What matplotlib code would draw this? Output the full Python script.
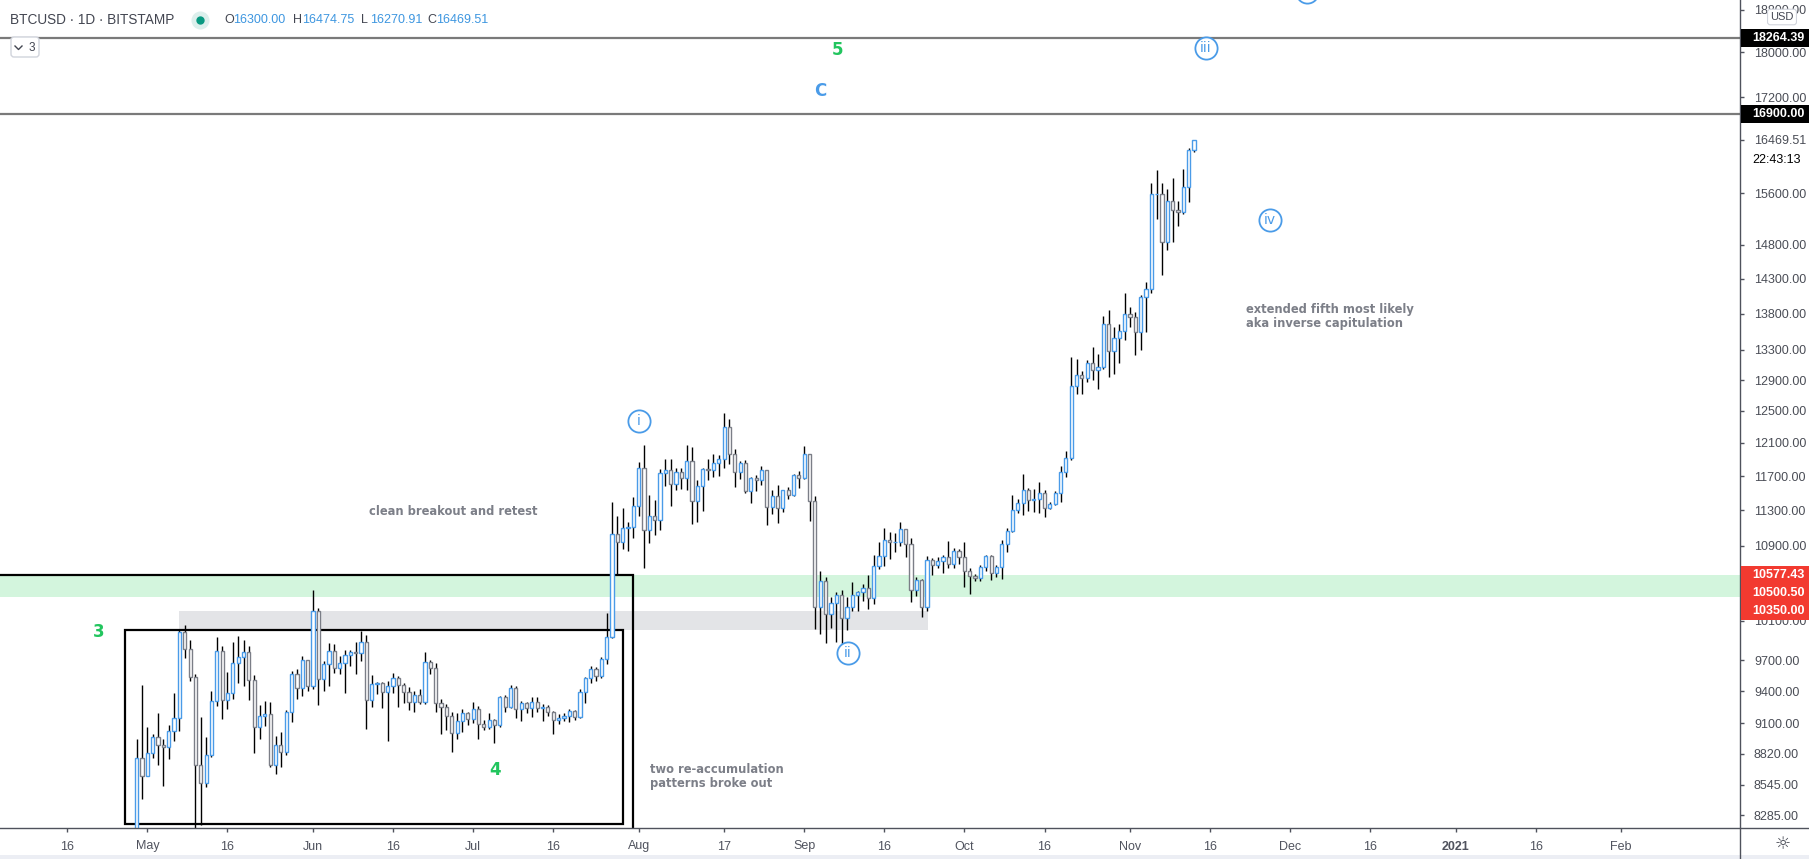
import datetime as dt
import numpy as np
import matplotlib
matplotlib.use("Agg")
import matplotlib.pyplot as plt
import matplotlib.dates as mdates
import matplotlib.ticker as mticker
from matplotlib.patches import Rectangle, FancyBboxPatch
from matplotlib.lines import Line2D
from matplotlib.transforms import IdentityTransform

# BTCUSD daily candles (Bitstamp), 29 Apr 2020 -> 13 Nov 2020
first_day = dt.date(2020, 4, 29)
first_open = 7760.0

closes = [
    8780, 8620,
    8825, 8970, 8900, 8880, 9030, 9150, 9980, 9810, 9540, 8720,
    8560, 8810, 9310, 9790, 9320, 9380, 9670, 9730, 9780, 9510,
    9060, 9170, 9180, 8720, 8900, 8840, 9200, 9570, 9430, 9700, 9450,
    10200, 9520, 9660, 9790, 9620, 9670, 9750, 9780, 9770, 9880,
    9320, 9470, 9480, 9390, 9450, 9530, 9460, 9390, 9300, 9360,
    9300, 9680, 9620, 9290, 9250, 9170, 9010, 9120, 9190, 9140,
    9230, 9090, 9060, 9130, 9080, 9340, 9250, 9430, 9230, 9290,
    9240, 9300, 9240, 9250, 9200, 9130, 9150, 9170, 9210, 9160,
    9390, 9530, 9610, 9550, 9710, 9930, 11030, 10940, 11100, 11110, 11350,
    11800, 11070, 11230, 11190, 11740, 11770, 11600, 11750, 11680, 11880,
    11410, 11580, 11780, 11770, 11860, 11910, 12300, 11960, 11750, 11860,
    11520, 11680, 11650, 11770, 11340, 11470, 11320, 11540, 11480, 11710, 11680,
    11970, 11410, 10240, 10520, 10170, 10280, 10370, 10130, 10240, 10370,
    10400, 10440, 10330, 10680, 10790, 10960, 10940, 10940, 11090, 10920,
    10420, 10530, 10240, 10740, 10690, 10730, 10780, 10700, 10840, 10780,
    10620, 10570, 10550, 10670, 10790, 10600, 10670, 10920, 11060, 11300,
    11380, 11540, 11420, 11430, 11500, 11330, 11370, 11500, 11750, 11920,
    12820, 12970, 12930, 13120, 13030, 13070, 13650, 13280, 13460, 13560, 13800,
    13760, 13550, 14030, 14150, 15590, 15590, 14840, 15480, 15330, 15300,
    15700, 16300, 16469.51,
]
highs = [
    8950, 9460,
    9060, 9000, 9190, 8950, 9080, 9380, 10000, 10050, 9900, 9570,
    9160, 8970, 9400, 9930, 9840, 9590, 9880, 9940, 9900, 9840,
    9560, 9270, 9310, 9300, 8980, 9020, 9220, 9600, 9610, 9740, 9700,
    10420, 10230, 9690, 9870, 9860, 9740, 9800, 9800, 9880, 9990,
    9950, 9560, 9490, 9490, 9500, 9580, 9550, 9480, 9440, 9400,
    9420, 9780, 9700, 9670, 9330, 9280, 9200, 9190, 9230, 9200,
    9300, 9260, 9130, 9190, 9140, 9350, 9360, 9460, 9450, 9310,
    9300, 9340, 9340, 9280, 9270, 9210, 9180, 9190, 9230, 9220,
    9420, 9540, 9640, 9630, 9730, 10180, 11400, 11230, 11330, 11170, 11450,
    11870, 12070, 11480, 11420, 11780, 11900, 11900, 11800, 11800, 12070,
    12050, 11650, 11800, 11900, 11970, 11950, 12480, 12400, 12020, 11880,
    11890, 11690, 11710, 11820, 11770, 11530, 11590, 11540, 11570, 11720, 11760,
    12060, 11960, 11470, 10620, 10560, 10350, 10400, 10420, 10350, 10500,
    10410, 10480, 10580, 10800, 10940, 11100, 11050, 11040, 11170, 11060,
    10990, 10560, 10540, 10790, 10760, 10780, 10800, 10950, 10870, 10860,
    10940, 10660, 10590, 10690, 10800, 10800, 10690, 10960, 11100, 11480,
    11430, 11720, 11560, 11550, 11630, 11540, 11400, 11520, 11820, 12000,
    13200, 13180, 13020, 13160, 13340, 13250, 13770, 13850, 13620, 13650, 14090,
    13900, 13830, 14070, 14250, 15770, 15970, 15770, 15660, 15840, 15480,
    15990, 16340, 16474.75,
]
lows = [
    7730, 8420,
    8620, 8780, 8720, 8540, 8770, 8940, 9030, 9720, 9500, 8100,
    8200, 8530, 8790, 9260, 9140, 9230, 9330, 9480, 9450, 9320,
    8830, 8950, 9070, 8700, 8640, 8700, 8810, 9110, 9330, 9350, 9400,
    9420, 9270, 9400, 9450, 9580, 9570, 9380, 9640, 9570, 9690,
    9050, 9250, 9370, 9240, 8940, 9380, 9250, 9290, 9220, 9200,
    9280, 9280, 9570, 9200, 9000, 9040, 8840, 8950, 9020, 9080,
    9100, 8950, 9040, 9050, 8920, 9060, 9200, 9240, 9150, 9120,
    9190, 9160, 9200, 9120, 9170, 9000, 9090, 9120, 9110, 9130,
    9150, 9290, 9480, 9500, 9530, 9660, 9920, 10590, 10860, 10840, 10980,
    11230, 10660, 10930, 11020, 11080, 11580, 11350, 11530, 11550, 11530,
    11140, 11170, 11290, 11650, 11690, 11700, 11800, 11840, 11570, 11670,
    11500, 11380, 11520, 11590, 11130, 11260, 11150, 11280, 11430, 11460, 11560,
    11660, 11180, 10010, 9960, 9870, 10020, 9880, 9860, 10000, 10200,
    10200, 10300, 10220, 10270, 10640, 10680, 10750, 10830, 10900, 10780,
    10290, 10360, 10140, 10200, 10580, 10650, 10600, 10660, 10650, 10700,
    10450, 10380, 10520, 10520, 10620, 10530, 10560, 10540, 10830, 11050,
    11270, 11250, 11290, 11280, 11270, 11220, 11310, 11360, 11400, 11690,
    11890, 12720, 12720, 12880, 12900, 12780, 13050, 12940, 12980, 13130, 13440,
    13620, 13230, 13300, 13550, 14100, 15200, 14350, 14730, 14840, 15090,
    15280, 15460, 16270.91,
]
assert len(closes) == len(highs) == len(lows)

price_ticks = [18800, 18000, 17200, 15600, 14800, 14300, 13800, 13300, 12900,
               12500, 12100, 11700, 11300, 10900, 10100, 9700, 9400, 9100,
               8820, 8545, 8285]
last_price = 16469.51
countdown = "22:43:13"
level_lines = [18264.39, 16900.00]
zone_tags = [10577.43, 10500.50, 10350.00]
green_zone = (10350.00, 10577.43)
grey_zone = (10000, 10200)

date_ticks = [dt.date(2020, 4, 16), dt.date(2020, 5, 1), dt.date(2020, 5, 16),
              dt.date(2020, 6, 1), dt.date(2020, 6, 16), dt.date(2020, 7, 1),
              dt.date(2020, 7, 16), dt.date(2020, 8, 1), dt.date(2020, 8, 17),
              dt.date(2020, 9, 1), dt.date(2020, 9, 16), dt.date(2020, 10, 1),
              dt.date(2020, 10, 16), dt.date(2020, 11, 1), dt.date(2020, 11, 16),
              dt.date(2020, 12, 1), dt.date(2020, 12, 16), dt.date(2021, 1, 1),
              dt.date(2021, 1, 16), dt.date(2021, 2, 1)]
date_labels = ["16", "May", "16", "Jun", "16", "Jul", "16", "Aug", "17", "Sep",
               "16", "Oct", "16", "Nov", "16", "Dec", "16", "2021", "16", "Feb"]

BLUE = "#4a9be8"
GREY = "#7b7e87"
GREEN = "#22c55e"
AXIS = "#4f525c"
W, H = 1809, 859


def day(m, d, frac=0.0, y=2020):
    return mdates.date2num(dt.date(y, m, d)) + frac


fig = plt.figure(figsize=(W / 100, H / 100), dpi=100)
ax = fig.add_axes([0, 31 / H, 1740 / W, 828 / H])
ax.set_yscale("log")
ax.set_ylim(8179, 18987)
x_left = day(4, 3, 0.4)
ax.set_xlim(x_left, x_left + 1740 / 5.34)

# zones and boxes
ax.axhspan(*green_zone, color="#d3f5dd", lw=0, zorder=1)
ax.add_patch(Rectangle((day(5, 6, 0.9), grey_zone[0]), day(9, 24, 0.2) - day(5, 6, 0.9),
                       grey_zone[1] - grey_zone[0], fc="#e3e4e7", ec="none", zorder=1))
ax.add_patch(Rectangle((day(3, 1), 7000), day(7, 30, 0.9) - day(3, 1), 10577.43 - 7000,
                       fill=False, ec="black", lw=1.6, zorder=2.5))
ax.add_patch(Rectangle((day(4, 26, 0.8), 8210), day(7, 29, 0.1) - day(4, 26, 0.8), 10000 - 8210,
                       fill=False, ec="black", lw=1.6, zorder=2.5))
for lvl in level_lines:
    ax.axhline(lvl, color="#7a7a7a", lw=1.6, zorder=2)

# candles
x = mdates.date2num(first_day) + np.arange(len(closes))
c = np.array(closes, dtype=float)
o = np.array([first_open] + closes[:-1], dtype=float)
up = c >= o
ax.vlines(x, lows, highs, color="black", lw=1.0, zorder=3)
ax.bar(x, np.maximum(np.abs(c - o), 1), bottom=np.minimum(o, c), width=0.6,
       color="white", edgecolor=[BLUE if u else GREY for u in up], linewidth=1.0, zorder=4)

# wave labels
wave_kw = dict(fontsize=12, fontweight="bold", ha="center", va="center", zorder=6)
ax.text(day(9, 7, 0.3), 18040, "5", color=GREEN, **wave_kw)
ax.text(day(9, 4), 17300, "C", color=BLUE, **wave_kw)
ax.text(day(4, 21, 0.9), 9980, "3", color=GREEN, **wave_kw)
ax.text(day(7, 5, 0.1), 8680, "4", color=GREEN, **wave_kw)
for (xx, yy, s) in [(day(8, 1), 12370, "i"), (day(9, 9, 0.2), 9770, "ii"),
                    (day(11, 15, 0.2), 18090, "iii"), (day(11, 27, 0.2), 15180, "iv")]:
    ax.plot([xx], [yy], "o", ms=16, mfc="white", mec=BLUE, mew=1.3, zorder=6)
    ax.text(xx, yy, s, color=BLUE, fontsize=10, ha="center", va="center", zorder=7)
# circled wave label above the visible range: only its lower arc shows
ax.plot([day(12, 4, 0.2)], [19150], "o", ms=16, mfc="white", mec=BLUE, mew=1.3,
        zorder=6, clip_on=False)

note_kw = dict(color="#7c7f88", fontsize=8.3, fontweight="bold", ha="left", va="center",
               linespacing=1.1, zorder=6)
ax.text(day(6, 11, 0.5), 11290, "clean breakout and retest", **note_kw)
ax.text(day(8, 3, 0.2), 8620, "two re-accumulation\npatterns broke out", **note_kw)
ax.text(day(11, 22, 0.7), 13760, "extended fifth most likely\naka inverse capitulation", **note_kw)

# axes styling
for sp in ax.spines.values():
    sp.set_visible(False)
ax.yaxis.tick_right()
ax.yaxis.set_minor_locator(mticker.NullLocator())
ax.set_yticks(price_ticks + [last_price])
ax.set_yticklabels([f"{v:.2f}" for v in price_ticks + [last_price]])
ax.yaxis.get_ticklabels()[-1].set_color("black")
ax.tick_params(axis="y", direction="out", length=3, width=1, color=AXIS, pad=7,
               labelsize=9, labelcolor="#4a4d56")
ax.set_xticks([mdates.date2num(d) for d in date_ticks])
ax.set_xticklabels(date_labels)
ax.tick_params(axis="x", direction="out", length=3, width=1, color=AXIS, pad=6,
               labelsize=9, labelcolor="#50535e")
for t in ax.get_xticklabels():
    if t.get_text() == "2021":
        t.set_fontweight("bold")
for t in ax.get_xticklabels() + ax.get_yticklabels():
    t.set_fontfamily("Liberation Sans")

ident = IdentityTransform()
fig.add_artist(Line2D([1740, 1740], [0, H], transform=ident, color=AXIS, lw=1.0))
fig.add_artist(Line2D([0, W], [31, 31], transform=ident, color=AXIS, lw=1.0))
fig.add_artist(Rectangle((0, 0), W, 4, transform=ident, fc="#eceef4", ec="none"))


def tag(y_px, text, bg):
    fig.add_artist(Rectangle((1741, y_px - 9), 68, 18, transform=ident, fc=bg, ec="none", zorder=8))
    fig.text(1752 / W, y_px / H, text, color="white", fontsize=9, fontweight="bold",
             family="Liberation Sans", ha="left", va="center", zorder=9)


def y_of(price):
    return ax.transData.transform((x_left, price))[1]


for lvl in level_lines:
    tag(y_of(lvl), f"{lvl:.2f}", "black")
top_tag = y_of(zone_tags[0])
for i, p in enumerate(zone_tags):
    tag(top_tag - 18 * i, f"{p:.2f}", "#f23a30")

fig.text(1752 / W, (y_of(last_price) - 20) / H, countdown, color="black", fontsize=9,
         family="Liberation Sans", ha="left", va="center")

# header
fig.text(10 / W, 1 - 20 / H, "BTCUSD · 1D · BITSTAMP", color="#434651", fontsize=9.8,
         family="Liberation Sans", ha="left", va="center")
fig.add_artist(Line2D([200], [H - 20], transform=ident, marker="o", ms=13, mfc="#dcefec", mec="none"))
fig.add_artist(Line2D([200], [H - 20], transform=ident, marker="o", ms=6, mfc="#089981", mec="none"))
ohlc = [("O", "16300.00", 224), ("H", "16474.75", 293), ("L", "16270.91", 361), ("C", "16469.51", 427)]
for letter, val, px in ohlc:
    fig.text(px / W, 1 - 20 / H, letter, color="#434651", fontsize=9, family="Liberation Sans",
             ha="left", va="center")
    fig.text((px + 9) / W, 1 - 20 / H, val, color="#3d96e0", fontsize=9, family="Liberation Sans",
             ha="left", va="center")
fig.add_artist(FancyBboxPatch((11, H - 57), 28, 20, boxstyle="round,pad=0,rounding_size=3",
                              transform=ident, fc="white", ec="#d1d4dc", lw=1, zorder=8))
fig.add_artist(Line2D([15, 18.5, 22], [H - 46, H - 49.5, H - 46], transform=ident,
                      color="#434651", lw=1, zorder=9))
fig.text(32 / W, 1 - 48 / H, "3", color="#434651", fontsize=8.5, family="Liberation Sans",
         ha="center", va="center", zorder=9)
fig.text(1782 / W, 1 - 17 / H, "USD", color="#434651", fontsize=8, family="Liberation Sans",
         ha="center", va="center", zorder=9,
         bbox=dict(boxstyle="round,pad=0.25", fc="white", ec="#d1d4dc", lw=0.8))
fig.text(1783 / W, 15 / H, "☼", color="#434651", fontsize=13, ha="center", va="center")

fig.savefig("out.png", dpi=100)
